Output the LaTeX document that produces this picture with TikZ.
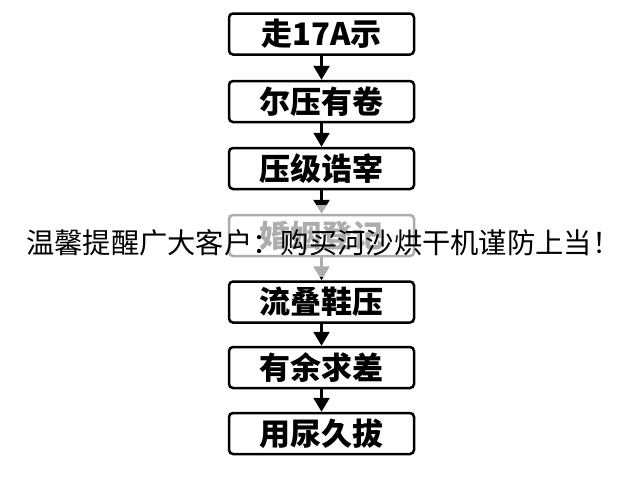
\documentclass[tikz,border=0pt]{standalone}
\usepackage{fontspec}
\newfontfamily\cjk{Noto Sans CJK SC}
\usetikzlibrary{arrows.meta}

\tikzset{
  stepbox/.style={draw, rounded corners=4pt, line width=2.5pt, minimum width=185pt, minimum height=41pt, inner sep=0pt, font=\cjk\bfseries\fontsize{31}{31}\selectfont},
  flow/.style={-{Triangle[width=16pt,length=14pt]}, line width=2.5pt}
}

\begin{document}
\begin{tikzpicture}[x=1pt,y=-1pt]
            \useasboundingbox (0,0) rectangle (640,480);
            % Draw the steps from top to bottom
            \foreach \y/\txt [count=\i] in {34/走17A示, 101.5/尔压有卷, 168.5/压级诰宰, 235.5/婚姻登记, 302/流叠鞋压, 367.5/有余求差, 433.5/用尿久拔} {
                    \node[stepbox] (s\i) at (321.5, \y) {\txt};
                }
            % Connect each step to the next one
            \foreach \a/\b in {1/2, 2/3, 3/4, 4/5, 5/6, 6/7} {
                    \draw[flow] (s\a) -- (s\b);
                }

            % Faded band and the notice on top of it
            \fill[white, opacity=0.68] (0,205) rectangle (640,277);
            \node[anchor=west, inner sep=0pt, font=\cjk\fontsize{28.3}{28.3}\selectfont] (Notice) at (26, 243) {温馨提醒广大客户：购买河沙烘干机谨防上当！};
        \end{tikzpicture}
\end{document}
